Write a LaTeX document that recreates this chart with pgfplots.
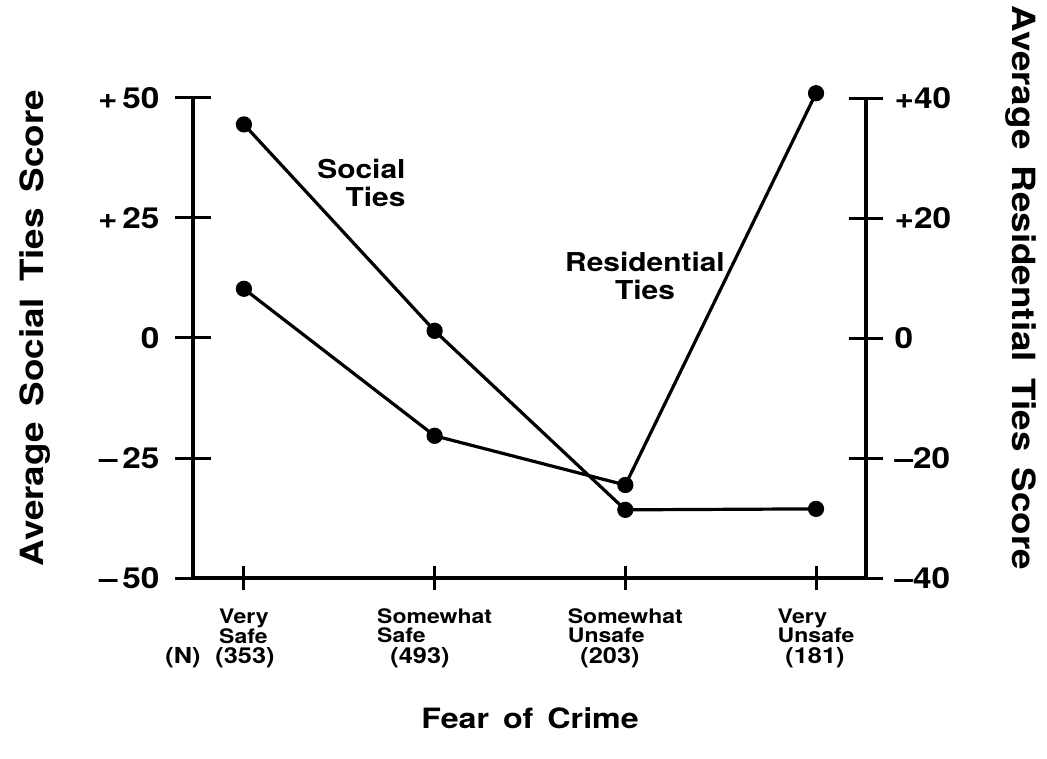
\documentclass[border=0pt]{standalone}
\usepackage{fontspec}
\setmainfont{TeX Gyre Heros}[FakeStretch=1.15]
\usepackage{pgfplots}
\pgfplotsset{compat=1.18}

\pgfplotsset{
  base/.style={
    scale only axis, width=673pt, height=480pt,
    xmin=-0.267, xmax=3.262,
    clip=false, tick align=center,
    axis line style={-, line width=3.5pt},
    every tick/.style={black, line width=3pt},
    ticklabel style={font=\fontsize{29}{31}\selectfont\bfseries},
  },
  ser/.style={black, line width=3.2pt, mark=*, mark size=6.5pt, mark options={solid, fill=black}},
}

\begin{document}
\begin{tikzpicture}
% x axis with categories
\begin{axis}[base, ymin=-50, ymax=50,
  axis x line*=bottom, hide y axis,
  major tick length=24pt,
  xtick={0,1,2,3},
  xticklabels={{Very\\Safe},{Somewhat\\Safe},{Somewhat\\Unsafe},{Very\\Unsafe}},
  xticklabel style={align=left, font=\fontsize{20}{19}\selectfont\bfseries, yshift=-15pt},
]
\end{axis}

% left axis: social ties
\begin{axis}[base, ymin=-50, ymax=50,
  hide x axis, axis y line*=left,
  major tick length=36pt,
  ytick={-50,-25,0,25,50},
  yticklabels={{–\,50},{–\,25},{0},{+\,25},{+\,50}},
  yticklabel style={xshift=-12pt},
]
\addplot[ser] coordinates {(0,44.5) (1,1.5) (2,-35.8) (3,-35.6)};
\end{axis}

% right axis: residential ties
\begin{axis}[base, ymin=-40, ymax=40,
  hide x axis, axis y line*=right,
  major tick length=34pt,
  ytick={-40,-20,0,20,40},
  yticklabels={{–40},{–20},{0},{+20},{+40}},
  yticklabel style={xshift=8pt},
]
\addplot[ser] coordinates {(0,8.2) (1,-16.3) (2,-24.5) (3,40.8)};
\end{axis}

% annotations
\node[align=right, anchor=north east, font=\fontsize{26}{28}\selectfont\bfseries] at (216pt,422pt) {Social\\Ties};
\node[align=center, font=\fontsize{26}{28}\selectfont\bfseries] at (452pt,302pt) {Residential\\Ties};

\begin{scope}[every node/.style={font=\fontsize{22}{24}\selectfont\bfseries}]
\node at (-10pt,-80pt) {(N)};
\node at (52pt,-80pt) {(353)};
\node at (227pt,-80pt) {(493)};
\node at (417pt,-80pt) {(203)};
\node at (622pt,-80pt) {(181)};
\end{scope}

\node[font=\fontsize{28}{30}\selectfont\bfseries] at (337pt,-140pt) {Fear\hspace{0.5em}of\hspace{0.5em}Crime};
\node[rotate=90, font=\fontsize{32}{34}\selectfont\bfseries] at (-158pt,250pt) {Average\hspace{0.5em}Social\hspace{0.5em}Ties\hspace{0.5em}Score};
\node[rotate=-90, font=\fontsize{32}{34}\selectfont\bfseries] at (828pt,290pt) {Average\hspace{0.5em}Residential\hspace{0.5em}Ties\hspace{0.5em}Score};

\path[use as bounding box] (-193pt,-180pt) rectangle (854pt,578pt);
\end{tikzpicture}
\end{document}
